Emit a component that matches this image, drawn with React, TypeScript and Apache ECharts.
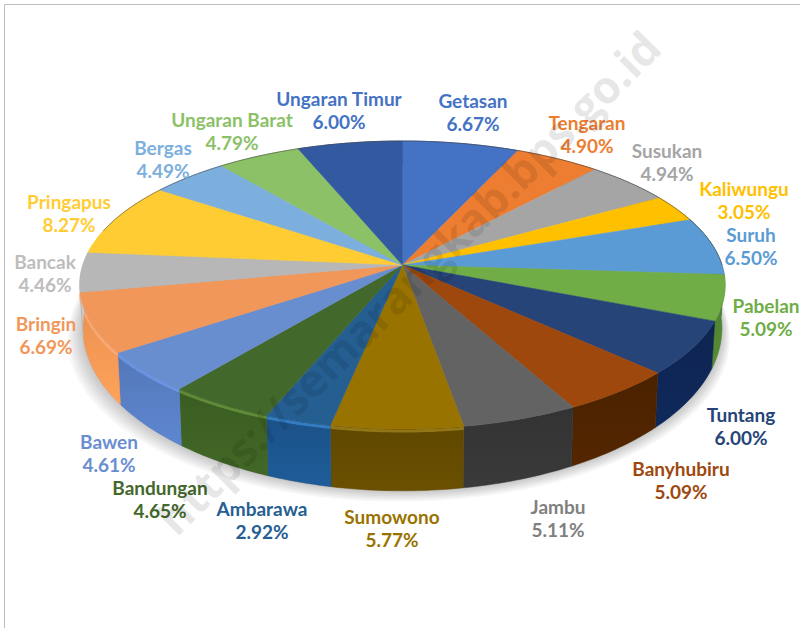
import React, { useEffect, useRef } from "react";
import * as echarts from "echarts";

const names = ["Getasan","Tengaran","Susukan","Kaliwungu","Suruh","Pabelan","Tuntang","Banyhubiru","Jambu","Sumowono","Ambarawa","Bandungan","Bawen","Bringin","Bancak","Pringapus","Bergas","Ungaran Barat","Ungaran Timur"];
const values = [6.67,4.90,4.94,3.05,6.50,5.09,6.00,5.09,5.11,5.77,2.92,4.65,4.61,6.69,4.46,8.27,4.49,4.79,6.00];

const topColors = ["#4472C4","#ED7D31","#A5A5A5","#FFC000","#5B9BD5","#70AD47","#264478","#9E480E","#636363","#997300","#255E91","#43682B","#698ED0","#F1975A","#B7B7B7","#FFCD33","#7CAFDD","#8CC168","#335AA1"];
const labelColors = ["#4472C4","#ED7D31","#A5A5A5","#FFC000","#5B9BD5","#70AD47","#264478","#9E480E","#808080","#997300","#255E91","#43682B","#698ED0","#F1975A","#BDBDBD","#FFCD33","#7CAFDD","#8CC168","#4472C4"];
const wallColors = ["#2c4a80","#9a5120","#6b6b6b","#a67d00","#2f4f6e","#4d7c2e","#0e2450","#4a2200","#333333","#5e4700","#1b5187","#3a5c22","#5377b8","#e88f50","#b7b7b7","#ffcd33","#7cafdd","#8cc168","#335aa1"];
const rimColors = ["","","","","","","","","","#a88a20","#3f8fd8","#6fa040","#739ff0","#f8b080","","","","",""];

const labelPos: number[][] = [[473,112],[587,134],[667,162],[744,200],[751,246],[766,317],[741,426],[681,480],[558,518],[392,528],[262,520],[160,499],[109,453],[46,335],[45,273],[69,213],[163,159],[232,131],[339,110]];

const CX = 402.4, CY = 265, A = 141.2, B = 319.6, K = 0.139;
const DROP = 40.5, SY = 1.13, SX = 0.99;
const SHADOW_STEPS = [12, 10, 8, 6, 4, 2];

const total = values.reduce((s, v) => s + v, 0);
const starts: number[] = [];
values.reduce((s, v, i) => { starts[i] = s; return s + v; }, 0);

function pt(theta: number, lower: boolean): number[] {
  const X = Math.sin(theta), Y = -Math.cos(theta), w = 1 - K * Y;
  return lower
    ? [CX + (B * SX * X) / w, CY + DROP + (A * SY * Y) / w]
    : [CX + (B * X) / w, CY + (A * Y) / w];
}
function arc(from: number, to: number, lower: boolean): number[][] {
  const n = Math.max(2, Math.ceil(((to - from) * 180) / Math.PI));
  const out: number[][] = [];
  for (let i = 0; i <= n; i++) out.push(pt(from + ((to - from) * i) / n, lower));
  return out;
}
function range(i: number): number[] {
  return [(starts[i] / total) * Math.PI * 2, ((starts[i] + values[i]) / total) * Math.PI * 2];
}
const seriesData = values.map((v, i) => ({ name: names[i], value: v }));

export default function App() {
  const ref = useRef<HTMLDivElement>(null);
  useEffect(() => {
    const chart = echarts.init(ref.current!, undefined, { renderer: "svg" });
    chart.setOption({
      animation: false,
      backgroundColor: "#ffffff",
      graphic: [
        { type: "line", z: 0, shape: { x1: 4.5, y1: 4.5, x2: 800, y2: 4.5 }, style: { stroke: "#bdbdbd", lineWidth: 1 } },
        { type: "line", z: 0, shape: { x1: 4.5, y1: 4.5, x2: 4.5, y2: 628 }, style: { stroke: "#bdbdbd", lineWidth: 1 } },
        {
          type: "text", z: 100, x: 408, y: 282, rotation: Math.PI / 4,
          style: { text: "https://semarangkab.bps.go.id", fill: "rgba(0,0,0,0.11)", font: "bold 45px 'Open Sans'", align: "center", verticalAlign: "middle" },
        },
      ],
      series: [
        {
          type: "custom", coordinateSystem: "none", silent: true, z: 1, data: SHADOW_STEPS,
          renderItem: (_p: any, api: any) => {
            const s = api.value(0);
            return {
              type: "polygon",
              shape: {
                points: arc(Math.PI * 0.4, Math.PI * 1.75, true).map((q) => [
                  CX + (q[0] - CX) * (1 + s / 330) - s * 0.3,
                  q[1] + s * 0.9,
                ]),
              },
              style: { fill: "rgba(0,0,0,0.035)" },
            };
          },
        },
        {
          type: "custom", coordinateSystem: "none", silent: true, z: 2, data: seriesData,
          renderItem: (p: any) => {
            const i = p.dataIndex;
            const [a0, a1] = range(i);
            const c = wallColors[i];
            const children: any[] = [{
              type: "polygon",
              shape: { points: [...arc(a0, a1, false), ...arc(a0, a1, true).reverse()] },
              style: {
                fill: new echarts.graphic.LinearGradient(0, 0, 0, 1, [
                  { offset: 0, color: c },
                  { offset: 1, color: echarts.color.lift(c, -0.14) },
                ]),
                stroke: c, lineWidth: 0.5,
              },
            }];
            if (rimColors[i]) {
              children.push({
                type: "polyline",
                shape: { points: arc(a0, a1, false).map((q) => [q[0], q[1] + 2]) },
                style: { fill: "none", stroke: rimColors[i], lineWidth: 3, opacity: 0.7 },
              });
            }
            return { type: "group", children };
          },
        },
        {
          type: "custom", coordinateSystem: "none", silent: true, z: 3, data: seriesData,
          renderItem: (p: any) => {
            const i = p.dataIndex;
            const [a0, a1] = range(i);
            return {
              type: "polygon",
              shape: { points: [[CX, CY], ...arc(a0, a1, false)] },
              style: { fill: topColors[i], stroke: topColors[i], lineWidth: 0.5 },
            };
          },
        },
        {
          type: "custom", coordinateSystem: "none", silent: true, z: 3.5, data: [1],
          renderItem: () => ({
            type: "polyline",
            shape: { points: arc(-Math.PI * 0.42, Math.PI * 0.5, false) },
            style: { fill: "none", stroke: "rgba(70,70,70,0.55)", lineWidth: 1 },
          }),
        },
        {
          type: "custom", coordinateSystem: "none", silent: true, z: 4, data: seriesData,
          renderItem: (p: any, api: any) => {
            const i = p.dataIndex;
            return {
              type: "text",
              style: {
                text: names[i] + "\n" + Number(api.value(0)).toFixed(2) + "%",
                x: labelPos[i][0], y: labelPos[i][1],
                fill: labelColors[i], font: "bold 19px Lato",
                align: "center", verticalAlign: "middle", lineHeight: 23,
              },
            };
          },
        },
      ],
    });
    return () => chart.dispose();
  }, []);
  return <div ref={ref} style={{ position: "absolute", left: 0, top: 0, width: 800, height: 628 }} />;
}
